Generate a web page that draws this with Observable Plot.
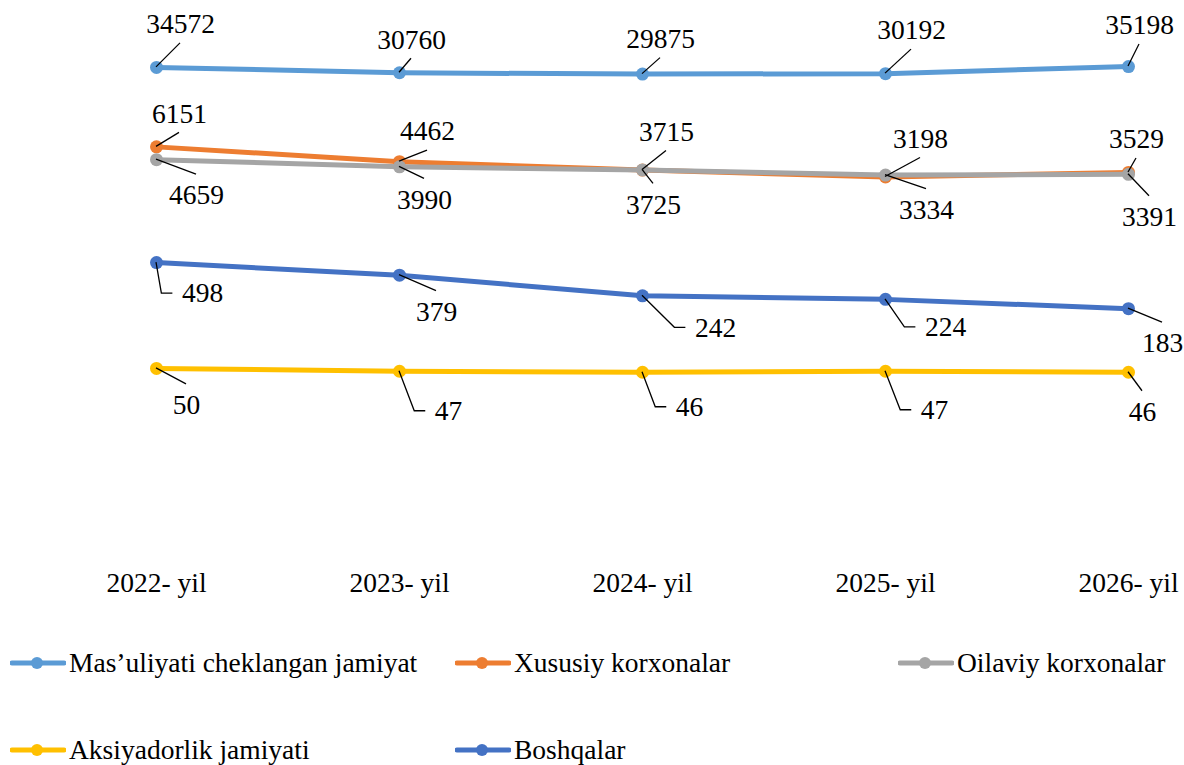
<!DOCTYPE html>
<html>
<head>
<meta charset="utf-8">
<script src="https://cdn.jsdelivr.net/npm/d3@7"></script>
<script src="https://cdn.jsdelivr.net/npm/@observablehq/plot@0.6"></script>
<style>
  html, body { margin: 0; padding: 0; background: #fff; }
  #wrap { width: 1184px; height: 765px; overflow: hidden; position: relative; }
  #chart svg text { font-family: "Liberation Serif", "Times New Roman", serif !important; fill: #000; }
  #legend { position: relative; width: 1184px; height: 155px; font-family: "Liberation Serif", "Times New Roman", serif; font-size: 27.5px; color: #000; }
  .item { position: absolute; height: 40px; display: flex; align-items: center; white-space: nowrap; }
  .item svg { margin-right: 3px; }
</style>
</head>
<body>
<div id="wrap">
  <div id="chart"></div>
  <div id="legend"></div>
</div>
<script>
// ---- data ----
const years = ["2022- yil", "2023- yil", "2024- yil", "2025- yil", "2026- yil"];
const seriesNames = ["Mas’uliyati cheklangan jamiyat", "Xususiy korxonalar", "Oilaviy korxonalar", "Aksiyadorlik jamiyati", "Boshqalar"];
const masValues = [34572, 30760, 29875, 30192, 35198];
const xusValues = [6151, 4462, 3715, 3198, 3529];
const oilValues = [4659, 3990, 3725, 3334, 3391];
const aksValues = [50, 47, 46, 47, 46];
const bosValues = [498, 379, 242, 224, 183];
const colors = ["#5B9BD5", "#ED7D31", "#A5A5A5", "#FFC000", "#4472C4"];

// ---- label placement (pixel offsets of label centres from their points) ----
const masOffsets = [[24, -43], [12, -33], [18, -35], [26, -43], [11, -41]];
const xusOffsets = [[23, -33], [28, -30], [24, -38], [35, -38], [8, -33]];
const oilOffsets = [[40, 36], [25, 33], [11, 35], [41, 35], [21, 43]];
const aksOffsets = [[30, 37], [49, 40], [47, 35], [49, 39], [14, 40]];
const bosOffsets = [[46, 31], [37, 37], [73, 32], [60, 28], [34, 35]];

const valueLists = [masValues, xusValues, oilValues, aksValues, bosValues];
const offsetLists = [masOffsets, xusOffsets, oilOffsets, aksOffsets, bosOffsets];

const fs = 27.5;
const font = "Liberation Serif";

const rowsBySeries = seriesNames.map((name, si) =>
  years.map((year, i) => ({series: name, year, value: valueLists[si][i], si, i,
    dx: offsetLists[si][i][0], dy: offsetLists[si][i][1]})));
const allRows = rowsBySeries.flat();

const marks = [];
rowsBySeries.forEach((rows, si) => {
  marks.push(Plot.line(rows, {x: "year", y: "value", stroke: colors[si], strokeWidth: 5, strokeLinejoin: "round", strokeLinecap: "round"}));
  marks.push(Plot.dot(rows, {x: "year", y: "value", r: 6.5, fill: colors[si], stroke: "none"}));
});
allRows.forEach(d => {
  marks.push(Plot.text([d], {x: "year", y: "value", text: r => String(r.value), dx: d.dx, dy: d.dy,
    fontSize: fs, fill: "#000", fontFamily: font}));
});

const chart = Plot.plot({
  width: 1184,
  height: 610,
  marginTop: 18,
  marginBottom: 62,
  marginLeft: 156,
  marginRight: 56,
  style: {fontFamily: font, fontSize: fs + "px", color: "#000", background: "#fff", overflow: "visible"},
  x: {type: "point", domain: years, padding: 0, tickSize: 0, tickPadding: 24, label: null},
  y: {type: "log", domain: [1, 100000], axis: null},
  marks
});
document.getElementById("chart").appendChild(chart);

// ---- leader lines, positioned with Plot's own scales ----
const xs = chart.scale("x"), ys = chart.scale("y");
const svgEl = chart.tagName.toLowerCase() === "svg" ? chart : chart.querySelector("svg");
const g = d3.select(svgEl).append("g").attr("fill", "none").attr("stroke", "#000").attr("stroke-width", 1.3);
allRows.forEach(d => {
  const px = xs.apply(d.year), py = ys.apply(d.value);
  const hw = String(d.value).length * 0.25 * fs;
  const gap = d.dx - hw;
  let pts;
  if (gap > 25) {
    pts = [[0, 0], [d.dx - hw - 20, d.dy], [d.dx - hw - 9, d.dy]];
  } else if (d.dy < 0) {
    pts = [[0, 0], [d.dx, d.dy + 19]];
  } else {
    pts = [[0, 0], [d.dx, d.dy - 21]];
  }
  g.append("path").attr("d", "M" + pts.map(p => (px + p[0]) + "," + (py + p[1])).join("L"));
});

// ---- legend ----
const legendPos = [[10, 53], [455, 53], [898, 53], [10, 140], [455, 140]];
const legend = document.getElementById("legend");
seriesNames.forEach((name, si) => {
  const item = document.createElement("div");
  item.className = "item";
  item.style.left = legendPos[si][0] + "px";
  item.style.top = (legendPos[si][1] - 20) + "px";
  item.innerHTML = `<svg width="56" height="16"><line x1="2" y1="8" x2="54" y2="8" stroke="${colors[si]}" stroke-width="5" stroke-linecap="round"/><circle cx="27" cy="8" r="6" fill="${colors[si]}"/></svg><span>${name}</span>`;
  legend.appendChild(item);
});
</script>
</body>
</html>
